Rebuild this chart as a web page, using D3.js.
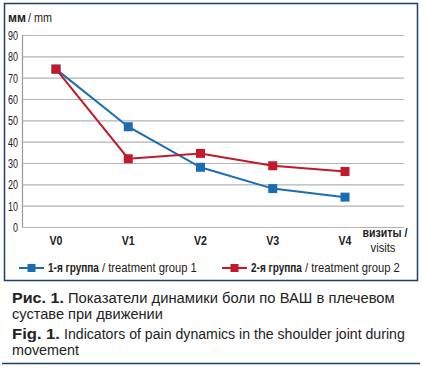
<!DOCTYPE html>
<html>
<head>
<meta charset="utf-8">
<script src="https://cdn.jsdelivr.net/npm/d3@7"></script>
<style>
body { margin: 0; background: #fff; }
svg { display: block; }
text { font-family: "Liberation Sans", Arial, sans-serif; }
</style>
</head>
<body>
<svg width="422" height="368"></svg>
<script>
var visits = ["V0", "V1", "V2", "V3", "V4"];
var group1 = [74, 47, 28, 18, 14];
var group2 = [74, 32, 34.5, 28.7, 26];
var yTicks = [0, 10, 20, 30, 40, 50, 60, 70, 80, 90];

var blue = "#1b6db3", red = "#c01a2c", navy = "#1d3f6e";

var svg = d3.select("svg");

// squeeze a text horizontally to width w (the original uses a condensed face)
function fit(sel, w) {
  sel.each(function(d) {
    var el = d3.select(this);
    var ww = typeof w === "function" ? w(d) : w;
    var len = this.getComputedTextLength();
    var px = +el.attr("x"), py = +el.attr("y");
    el.attr("x", 0).attr("y", 0)
      .attr("transform", "translate(" + px + "," + py + ") scale(" + (ww / len) + ",1)");
  });
  return sel;
}

svg.append("rect")
  .attr("x", 4.5).attr("y", 3.5).attr("width", 413).attr("height", 277)
  .attr("fill", "none").attr("stroke", navy).attr("stroke-width", 1.5);

var x = d3.scalePoint().domain(visits).range([56, 345]);
var y = d3.scaleLinear().domain([0, 90]).range([227, 35]);

svg.append("g").selectAll("line")
  .data(yTicks)
  .enter().append("line")
  .attr("x1", 22).attr("x2", 404)
  .attr("y1", function(d) { return y(d) + 0.5; })
  .attr("y2", function(d) { return y(d) + 0.5; })
  .attr("stroke", "#b3b3b3").attr("stroke-width", 1.2);

svg.append("line")
  .attr("x1", 22.5).attr("x2", 22.5).attr("y1", y(90)).attr("y2", y(0))
  .attr("stroke", "#999").attr("stroke-width", 1.2);

fit(svg.append("g").selectAll("text")
  .data(yTicks)
  .enter().append("text")
  .attr("x", 18).attr("y", function(d) { return y(d) + 5; })
  .attr("text-anchor", "end")
  .attr("font-size", 13).attr("fill", "#222")
  .text(function(d) { return d; }), function(d) { return String(d).length * 5; });

fit(svg.append("g").selectAll("text")
  .data(visits)
  .enter().append("text")
  .attr("x", function(d) { return x(d); }).attr("y", 245)
  .attr("text-anchor", "middle")
  .attr("font-size", 13).attr("font-weight", "bold").attr("fill", "#222")
  .text(function(d) { return d; }), 13);

fit(svg.append("text").attr("x", 8).attr("y", 22).attr("font-size", 12)
  .attr("font-weight", "bold").attr("fill", "#222").text("мм"), 18);
fit(svg.append("text").attr("x", 28).attr("y", 22).attr("font-size", 12)
  .attr("fill", "#222").text("/ mm"), 24);

fit(svg.append("text").attr("x", 385).attr("y", 237)
  .attr("text-anchor", "middle").attr("font-size", 12).attr("font-weight", "bold")
  .attr("fill", "#222").text("визиты /"), 45);
fit(svg.append("text").attr("x", 383).attr("y", 252)
  .attr("text-anchor", "middle").attr("font-size", 12)
  .attr("fill", "#222").text("visits"), 25);

var line = d3.line()
  .x(function(d, i) { return x(visits[i]); })
  .y(function(d) { return y(d); });

var series = [
  { values: group1, color: blue },
  { values: group2, color: red }
];

series.forEach(function(s) {
  svg.append("path")
    .attr("d", line(s.values))
    .attr("fill", "none").attr("stroke", s.color).attr("stroke-width", 2);
  svg.append("g").selectAll("rect")
    .data(s.values)
    .enter().append("rect")
    .attr("x", function(d, i) { return x(visits[i]) - 4.5; })
    .attr("y", function(d) { return y(d) - 4.5; })
    .attr("width", 9).attr("height", 9)
    .attr("fill", s.color);
});

var legend = [
  { bold: "1-я группа", rest: "/ treatment group 1", color: blue, x: 19 },
  { bold: "2-я группа", rest: "/ treatment group 2", color: red, x: 222 }
];
legend.forEach(function(l) {
  svg.append("line").attr("x1", l.x).attr("x2", l.x + 25).attr("y1", 268).attr("y2", 268)
    .attr("stroke", l.color).attr("stroke-width", 2);
  svg.append("rect").attr("x", l.x + 8.5).attr("y", 264).attr("width", 8).attr("height", 8)
    .attr("fill", l.color);
  fit(svg.append("text").attr("x", l.x + 29).attr("y", 272).attr("font-size", 12)
    .attr("font-weight", "bold").attr("fill", "#222").text(l.bold), 51);
  fit(svg.append("text").attr("x", l.x + 83).attr("y", 272).attr("font-size", 12)
    .attr("fill", "#222").text(l.rest), 95);
});

var caption = [
  { bold: "Рис. 1.", rest: "Показатели динамики боли по ВАШ в плечевом", y: 303, bw: 52, w: 327 },
  { bold: "", rest: "суставе при движении", y: 319, w: 151 },
  { bold: "Fig. 1.", rest: "Indicators of pain dynamics in the shoulder joint during", y: 339, bw: 48, w: 341 },
  { bold: "", rest: "movement", y: 355, w: 67 }
];
caption.forEach(function(c) {
  var x0 = 12;
  if (c.bold) {
    fit(svg.append("text").attr("x", x0).attr("y", c.y).attr("font-size", 15)
      .attr("font-weight", "bold").attr("fill", "#222").text(c.bold), c.bw);
    x0 += c.bw + 4;
  }
  fit(svg.append("text").attr("x", x0).attr("y", c.y).attr("font-size", 15)
    .attr("fill", "#222").text(c.rest), c.w);
});

svg.append("line").attr("x1", 2).attr("x2", 420).attr("y1", 363.5).attr("y2", 363.5)
  .attr("stroke", navy).attr("stroke-width", 1.5);
</script>
</body>
</html>
